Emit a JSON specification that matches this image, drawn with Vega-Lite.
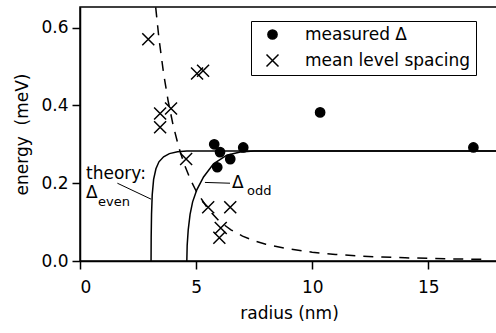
{
  "$schema": "https://vega.github.io/schema/vega-lite/v6.json",
  "width": 418,
  "height": 254,
  "autosize": "none",
  "padding": {"left": 80, "top": 7, "right": 0, "bottom": 72},
  "background": "white",
  "config": {
    "view": {"stroke": "black", "strokeWidth": 1.5},
    "font": "DejaVu Sans",
    "axis": {
      "domainColor": "black", "domainWidth": 1.5,
      "tickColor": "black", "tickWidth": 1.5, "tickSize": 8,
      "labelFont": "DejaVu Sans", "labelFontSize": 17, "labelColor": "black",
      "titleFont": "DejaVu Sans", "titleFontSize": 17, "titleFontWeight": "normal", "titleColor": "black",
      "grid": false
    },
    "legend": {
      "labelFont": "DejaVu Sans", "labelFontSize": 17, "labelColor": "black", "labelLimit": 0
    }
  },
  "datasets": {
    "theory": [
      {"r": 3.06, "e": 0.0, "curve": "even"},
      {"r": 3.065, "e": 0.06, "curve": "even"},
      {"r": 3.08, "e": 0.12, "curve": "even"},
      {"r": 3.11, "e": 0.17, "curve": "even"},
      {"r": 3.17, "e": 0.21, "curve": "even"},
      {"r": 3.27, "e": 0.237, "curve": "even"},
      {"r": 3.4, "e": 0.255, "curve": "even"},
      {"r": 3.6, "e": 0.268, "curve": "even"},
      {"r": 3.85, "e": 0.276, "curve": "even"},
      {"r": 4.2, "e": 0.281, "curve": "even"},
      {"r": 4.6, "e": 0.283, "curve": "even"},
      {"r": 18.0, "e": 0.283, "curve": "even"},
      {"r": 4.6, "e": 0.0, "curve": "odd"},
      {"r": 4.615, "e": 0.04, "curve": "odd"},
      {"r": 4.66, "e": 0.08, "curve": "odd"},
      {"r": 4.74, "e": 0.12, "curve": "odd"},
      {"r": 4.85, "e": 0.152, "curve": "odd"},
      {"r": 5.03, "e": 0.183, "curve": "odd"},
      {"r": 5.32, "e": 0.216, "curve": "odd"},
      {"r": 5.75, "e": 0.25, "curve": "odd"},
      {"r": 6.32, "e": 0.272, "curve": "odd"},
      {"r": 6.9, "e": 0.28, "curve": "odd"},
      {"r": 7.5, "e": 0.283, "curve": "odd"},
      {"r": 18.0, "e": 0.283, "curve": "odd"}
    ],
    "spacing": [
      {"r": 3.26, "e": 0.652},
      {"r": 3.4, "e": 0.572},
      {"r": 3.6, "e": 0.482},
      {"r": 3.8, "e": 0.41},
      {"r": 4.0, "e": 0.352},
      {"r": 4.25, "e": 0.293},
      {"r": 4.5, "e": 0.247},
      {"r": 4.75, "e": 0.21},
      {"r": 5.0, "e": 0.18},
      {"r": 5.5, "e": 0.135},
      {"r": 6.0, "e": 0.102},
      {"r": 6.5, "e": 0.08},
      {"r": 7.0, "e": 0.064},
      {"r": 7.5, "e": 0.052},
      {"r": 8.0, "e": 0.043},
      {"r": 9.0, "e": 0.031},
      {"r": 10.0, "e": 0.0225},
      {"r": 11.0, "e": 0.017},
      {"r": 12.0, "e": 0.013},
      {"r": 13.0, "e": 0.0102},
      {"r": 14.0, "e": 0.0082},
      {"r": 15.0, "e": 0.0067},
      {"r": 16.0, "e": 0.0055},
      {"r": 17.3, "e": 0.0043}
    ],
    "points": [
      {"r": 5.78, "e": 0.3, "series": "measured Δ"},
      {"r": 6.03, "e": 0.28, "series": "measured Δ"},
      {"r": 7.03, "e": 0.292, "series": "measured Δ"},
      {"r": 5.91, "e": 0.241, "series": "measured Δ"},
      {"r": 6.47, "e": 0.262, "series": "measured Δ"},
      {"r": 10.34, "e": 0.382, "series": "measured Δ"},
      {"r": 16.94, "e": 0.292, "series": "measured Δ"},
      {"r": 2.94, "e": 0.57, "series": "mean level spacing"},
      {"r": 5.04, "e": 0.482, "series": "mean level spacing"},
      {"r": 5.3, "e": 0.489, "series": "mean level spacing"},
      {"r": 3.45, "e": 0.379, "series": "mean level spacing"},
      {"r": 3.92, "e": 0.392, "series": "mean level spacing"},
      {"r": 3.45, "e": 0.344, "series": "mean level spacing"},
      {"r": 4.57, "e": 0.262, "series": "mean level spacing"},
      {"r": 5.52, "e": 0.138, "series": "mean level spacing"},
      {"r": 6.47, "e": 0.138, "series": "mean level spacing"},
      {"r": 6.06, "e": 0.085, "series": "mean level spacing"},
      {"r": 6.0, "e": 0.06, "series": "mean level spacing"}
    ],
    "leaders": [
      {"r": 1.61, "e": 0.2, "r2": 3.06, "e2": 0.159},
      {"r": 5.38, "e": 0.202, "r2": 6.46, "e2": 0.2}
    ],
    "labels": [
      {"r": 0.26, "e": 0.212, "t": "theory:", "kind": "main"},
      {"r": 0.26, "e": 0.162, "t": "Δ", "kind": "main"},
      {"r": 6.55, "e": 0.1877, "t": "Δ", "kind": "main"},
      {"r": 0.775, "e": 0.142, "t": "even", "kind": "sub"},
      {"r": 7.19, "e": 0.17, "t": "odd", "kind": "sub"}
    ]
  },
  "layer": [
    {
      "data": {"name": "theory"},
      "mark": {"type": "line", "color": "black", "strokeWidth": 1.5, "clip": true},
      "encoding": {
        "x": {"field": "r", "type": "quantitative", "scale": {"domain": [0, 18], "nice": false},
          "axis": {"values": [0, 5, 10, 15], "title": "radius (nm)", "labelPadding": 10, "titlePadding": 10}},
        "y": {"field": "e", "type": "quantitative", "scale": {"domain": [0, 0.653], "nice": false},
          "axis": {"values": [0, 0.2, 0.4, 0.6], "format": ".1f", "title": "energy\u00a0 (meV)", "labelPadding": 4, "titlePadding": 9}},
        "detail": {"field": "curve"}
      }
    },
    {
      "data": {"name": "spacing"},
      "mark": {"type": "line", "color": "black", "strokeWidth": 1.5, "strokeDash": [10, 8], "clip": true},
      "encoding": {
        "x": {"field": "r", "type": "quantitative"},
        "y": {"field": "e", "type": "quantitative"}
      }
    },
    {
      "data": {"name": "leaders"},
      "mark": {"type": "rule", "color": "black", "strokeWidth": 1},
      "encoding": {
        "x": {"field": "r", "type": "quantitative"},
        "y": {"field": "e", "type": "quantitative"},
        "x2": {"field": "r2"},
        "y2": {"field": "e2"}
      }
    },
    {
      "data": {"name": "points"},
      "mark": {"type": "point", "filled": true, "fill": "black", "stroke": "black", "strokeWidth": 1.5, "opacity": 1},
      "encoding": {
        "x": {"field": "r", "type": "quantitative"},
        "y": {"field": "e", "type": "quantitative"},
        "shape": {"field": "series", "type": "nominal",
          "scale": {"domain": ["measured Δ", "mean level spacing"], "range": ["circle", "M-1,-1L1,1M-1,1L1,-1"]},
          "legend": {"title": null, "orient": "none", "legendX": 171, "legendY": 14, "strokeColor": "black",
            "padding": 5, "symbolOffset": 8, "labelOffset": 24, "rowPadding": 8, "labelLimit": 0,
            "symbolFillColor": "black", "symbolStrokeColor": "black", "symbolStrokeWidth": 1.5,
            "encode": {"legend": {"update": {"strokeWidth": {"value": 1.5}}}}}},
        "size": {"field": "series", "type": "nominal",
          "scale": {"domain": ["measured Δ", "mean level spacing"], "range": [85, 144]}}
      }
    },
    {
      "data": {"name": "labels"},
      "transform": [{"filter": "datum.kind == 'main'"}],
      "mark": {"type": "text", "align": "left", "baseline": "alphabetic", "fontSize": 17, "font": "DejaVu Sans", "color": "black"},
      "encoding": {
        "x": {"field": "r", "type": "quantitative"},
        "y": {"field": "e", "type": "quantitative"},
        "text": {"field": "t"}
      }
    },
    {
      "data": {"name": "labels"},
      "transform": [{"filter": "datum.kind == 'sub'"}],
      "mark": {"type": "text", "align": "left", "baseline": "alphabetic", "fontSize": 13, "font": "DejaVu Sans", "color": "black"},
      "encoding": {
        "x": {"field": "r", "type": "quantitative"},
        "y": {"field": "e", "type": "quantitative"},
        "text": {"field": "t"}
      }
    }
  ]
}
